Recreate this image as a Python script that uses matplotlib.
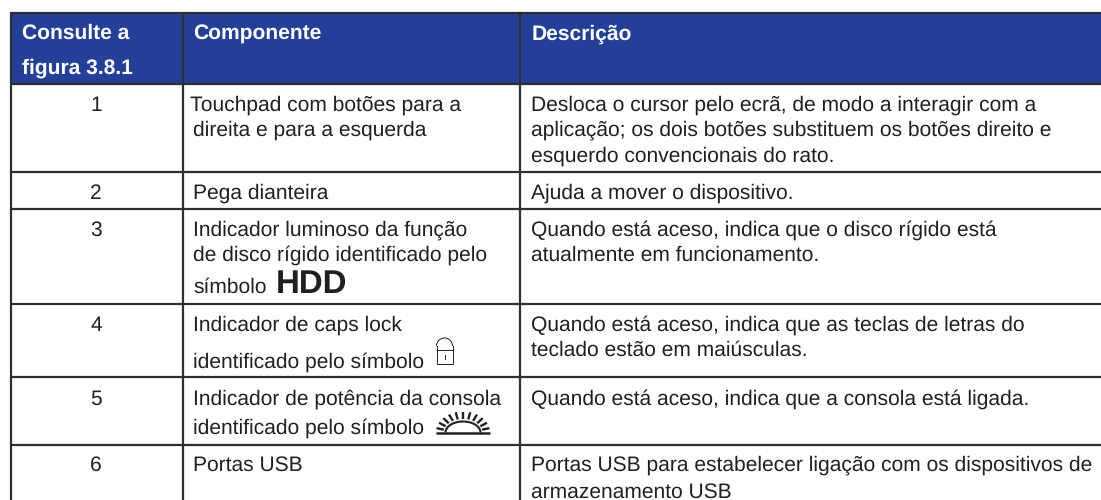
# Table of the console components (figure 3.8.1)

import numpy as np
import matplotlib
matplotlib.use("Agg")
import matplotlib.pyplot as plt
from matplotlib.patches import Rectangle, Arc

headers = [["Consulte a", "figura 3.8.1"], ["Componente"], ["Descrição"]]
numbers = ["1", "2", "3", "4", "5", "6"]
components = [
    ["Touchpad com botões para a", "direita e para a esquerda"],
    ["Pega dianteira"],
    ["Indicador luminoso da função", "de disco rígido identificado pelo", "símbolo"],
    ["Indicador de caps lock", "identificado pelo símbolo"],
    ["Indicador de potência da consola", "identificado pelo símbolo"],
    ["Portas USB"],
]
descriptions = [
    ["Desloca o cursor pelo ecrã, de modo a interagir com a",
     "aplicação; os dois botões substituem os botões direito e",
     "esquerdo convencionais do rato."],
    ["Ajuda a mover o dispositivo."],
    ["Quando está aceso, indica que o disco rígido está",
     "atualmente em funcionamento."],
    ["Quando está aceso, indica que as teclas de letras do",
     "teclado estão em maiúsculas."],
    ["Quando está aceso, indica que a consola está ligada."],
    ["Portas USB para estabelecer ligação com os dispositivos de",
     "armazenamento USB"],
]

# layout, in pixels of the picture
col_lines = [10.5, 182.5, 520]
row_lines = [12.7, 84.3, 172, 209, 304, 377, 445]
header_base = [[39, 74], [40], [40]]
comp_base = [[111, 136], [199], [236, 261, 293], [331, 368], [405, 434], [471]]
desc_base = [[111, 136, 162], [199], [236, 261], [331, 356], [405], [471, 498]]
comp_x = 193
desc_x = 531
line_color = "#2e2e2e"
text_color = "#231f20"
blue = "#233f98"
body_size = 15.1

plt.rcParams["font.family"] = ["Liberation Sans", "DejaVu Sans"]
plt.rcParams["text.hinting"] = "none"
plt.rcParams["text.hinting_factor"] = 1
fig = plt.figure(figsize=(11.01, 5), dpi=100)
ax = fig.add_axes([0, 0, 1, 1])
ax.set_xlim(0, 1101)
ax.set_ylim(500, 0)
ax.axis("off")

ax.add_patch(Rectangle((col_lines[0], row_lines[0]), 1101 - col_lines[0],
                       row_lines[1] - row_lines[0], color=blue, lw=0))

# grid lines
for y in row_lines:
    ax.plot([col_lines[0] - 1, 1101], [y, y], color=line_color, lw=1.6, solid_capstyle="butt")
for x in col_lines:
    ax.plot([x, x], [row_lines[0], 500], color=line_color, lw=1.6, solid_capstyle="butt")


def put(x, y, s, **kw):
    kw.setdefault("fontsize", body_size)
    kw.setdefault("color", text_color)
    ax.text(x, y, s, va="baseline", **kw)


# header
for lines, bases, x in zip(headers, header_base, [21.5, comp_x, desc_x + 1]):
    for s, y in zip(lines, bases):
        put(x, y, s, color="white", fontweight="bold", fontsize=15.4)

# body
for i in range(len(numbers)):
    put(96, comp_base[i][0], numbers[i], ha="center")
    for j, (s, y) in enumerate(zip(components[i], comp_base[i])):
        # first cell starts a little further left in the original
        put(comp_x - 2.5 if i == 0 and j == 0 else comp_x, y, s)
    for s, y in zip(descriptions[i], desc_base[i]):
        put(desc_x, y, s)

put(275.5, 293, "HDD", fontweight="bold", fontsize=23.5)

# lock symbol
ax.add_patch(Rectangle((436.5, 350), 16, 14, fill=False, ec=text_color, lw=0.7))
ax.add_patch(Arc((444.5, 346), 16, 16, theta1=180, theta2=360, ec=text_color, lw=0.7))
ax.plot([436.5, 436.5], [346, 350], color=text_color, lw=0.7)
ax.plot([452.5, 452.5], [346, 350], color=text_color, lw=0.7)
ax.plot([444.5, 444.5], [355, 359], color=text_color, lw=0.7)

# power symbol
sun_x, sun_y = 463, 432.5
ax.plot([436, 490], [sun_y, sun_y], color=text_color, lw=1.8, solid_capstyle="butt")
ax.add_patch(Arc((sun_x, sun_y), 35, 22, theta1=180, theta2=360, ec=text_color, lw=1.5))
for a in np.radians(np.linspace(12, 168, 11)):
    ax.plot([sun_x + 19.5 * np.cos(a), sun_x + 27 * np.cos(a)],
            [sun_y - 13.5 * np.sin(a), sun_y - 21 * np.sin(a)], color=text_color, lw=1.7,
            solid_capstyle="butt")

fig.savefig("out.png", dpi=100, facecolor="white")
